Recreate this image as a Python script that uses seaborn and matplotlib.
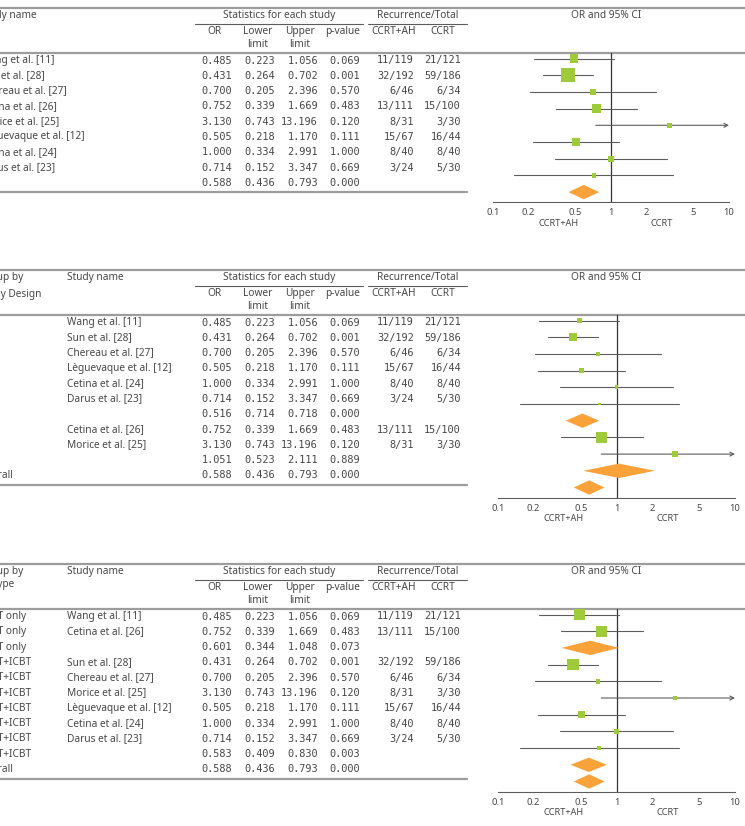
import matplotlib
matplotlib.use("Agg")
import matplotlib.pyplot as plt
from matplotlib.ticker import NullLocator
import numpy as np
import pandas as pd
import seaborn as sns

# studies, in the order of the ungrouped panel
study = ["Wang et al. [11]", "Sun et al. [28]", "Chereau et al. [27]", "Cetina et al. [26]",
         "Morice et al. [25]", "Lèguevaque et al. [12]", "Cetina et al. [24]", "Darus et al. [23]"]
odds = [0.485, 0.431, 0.700, 0.752, 3.130, 0.505, 1.000, 0.714]
lower = [0.223, 0.264, 0.205, 0.339, 0.743, 0.218, 0.334, 0.152]
upper = [1.056, 0.702, 2.396, 1.669, 13.196, 1.170, 2.991, 3.347]
pval = [0.069, 0.001, 0.570, 0.483, 0.120, 0.111, 1.000, 0.669]
events_ah = ["11/119", "32/192", "6/46", "13/111", "8/31", "15/67", "8/40", "3/24"]
events_ccrt = ["21/121", "59/186", "6/34", "15/100", "3/30", "16/44", "8/40", "5/30"]
design = ["RCS", "RCS", "RCS", "RCT", "RCT", "RCS", "RCS", "RCS"]
rt_type = ["EBRT only", "EBRT+ICBT", "EBRT+ICBT", "EBRT only",
           "EBRT+ICBT", "EBRT+ICBT", "EBRT+ICBT", "EBRT+ICBT"]

# relative weights (%) judged from the square areas of each panel
weight_all = [14.7, 37.3, 5.9, 14.0, 4.3, 12.6, 7.4, 3.7]
weight_design = [18.0, 45.6, 7.2, 76.5, 23.5, 15.5, 9.1, 4.6]
weight_rt = [51.2, 52.3, 8.3, 48.8, 6.1, 17.7, 10.4, 5.2]

# pooled results: OR, lower, upper, p
overall = [0.588, 0.436, 0.793, 0.000]
design_groups = ["RCS", "RCT"]
design_pooled = [[0.516, 0.714, 0.718, 0.000], [1.051, 0.523, 2.111, 0.889]]
# printed RCS limits are a typo in the table, the diamond sits here
design_diamond = [[0.373, 0.714], [0.523, 2.111]]
rt_groups = ["EBRT only", "EBRT+ICBT"]
rt_pooled = [[0.601, 0.344, 1.048, 0.073], [0.583, 0.409, 0.830, 0.003]]
rt_diamond = [[0.344, 1.048], [0.409, 0.830]]

ticks = [0.1, 0.2, 0.5, 1, 2, 5, 10]
tick_labels = ["0.1", "0.2", "0.5", "1", "2", "5", "10"]

sns.set_style("white")
plt.rcParams["font.family"] = ["Noto Sans", "DejaVu Sans"]

GREEN = "#9fcb3b"
ORANGE = "#f9a23a"
TXT = "#474747"
RULE = "#9c9c9c"
LINE = "#5c5c5c"
W, H = 745, 826


def study_row(i, group, weight):
    return dict(group=group, study=study[i], est=odds[i], lo=lower[i], hi=upper[i], p=pval[i],
                ev1=events_ah[i], ev2=events_ccrt[i], kind="study", weight=weight[i],
                lo_d=lower[i], hi_d=upper[i])


def pooled_row(group, vals, drawn):
    return dict(group=group, study="", est=vals[0], lo=vals[1], hi=vals[2], p=vals[3],
                ev1="", ev2="", kind="pooled", weight=np.nan, lo_d=drawn[0], hi_d=drawn[1])


def build(groupcol, names, pooled, drawn, weight):
    rows = []
    for g, vals, d in zip(names, pooled, drawn):
        rows += [study_row(i, g, weight) for i in range(len(study)) if groupcol[i] == g]
        rows.append(pooled_row(g, vals, d))
    rows.append(pooled_row("Overall", overall, overall[1:3]))
    return pd.DataFrame(rows)


df_all = pd.DataFrame([study_row(i, "", weight_all) for i in range(len(study))]
                      + [pooled_row("", overall, overall[1:3])])
df_design = build(design, design_groups, design_pooled, design_diamond, weight_design)
df_rt = build(rt_type, rt_groups, rt_pooled, rt_diamond, weight_rt)

fig = plt.figure(figsize=(W / 100, H / 100), dpi=100)
bg = fig.add_axes([0, 0, 1, 1])
bg.set_xlim(0, W)
bg.set_ylim(H, 0)
bg.axis("off")

lab = dict(fontsize=7.3, color=TXT, va="center")
num = dict(fontsize=7.4, color=TXT, va="center", ha="right", family="DejaVu Sans Mono")


def draw_panel(df, top, x01, x10, sq_max, group_title=None, dy2=21):
    n = len(df)
    ty = top + 52.5 + 15.3 * np.arange(n)

    # table rules
    bg.plot([0, W], [top, top], color=RULE, lw=1.6)
    bg.plot([0, W], [top + 44.5] * 2, color=RULE, lw=1.6)
    bg.plot([0, 467], [ty[-1] + 9] * 2, color=RULE, lw=1.6)
    bg.plot([195, 363], [top + 15.5] * 2, color=LINE, lw=0.8)
    bg.plot([368, 467], [top + 15.5] * 2, color=LINE, lw=0.8)

    # headers
    study_x = -20
    if group_title is not None:
        study_x = 67
        bg.text(-21, top + 7.5, "Group by", **lab)
        bg.text(-21, top + dy2, group_title, **lab)
    bg.text(study_x, top + 7.5, "Study name", **lab)
    bg.text(279, top + 7.5, "Statistics for each study", ha="center", **lab)
    bg.text(418, top + 7.5, "Recurrence/Total", ha="center", **lab)
    bg.text(606, top + 7.5, "OR and 95% CI", ha="center", **lab)
    bg.text(215, top + 23.5, "OR", ha="center", **lab)
    bg.text(258, top + 23.5, "Lower", ha="center", **lab)
    bg.text(258, top + 36.5, "limit", ha="center", **lab)
    bg.text(300, top + 23.5, "Upper", ha="center", **lab)
    bg.text(300, top + 36.5, "limit", ha="center", **lab)
    bg.text(343, top + 23.5, "p-value", ha="center", **lab)
    bg.text(394, top + 23.5, "CCRT+AH", ha="center", **lab)
    bg.text(443, top + 23.5, "CCRT", ha="center", **lab)

    # table body
    for y, r in zip(ty, df.itertuples()):
        if group_title is not None:
            bg.text(-21, y, r.group, **lab)
        elif r.group:
            bg.text(-20, y, r.group, **lab)
        bg.text(study_x, y, r.study, **lab)
        bg.text(232, y, f"{r.est:.3f}", **num)
        bg.text(275, y, f"{r.lo:.3f}", **num)
        bg.text(318, y, f"{r.hi:.3f}", **num)
        bg.text(360, y, f"{r.p:.3f}", **num)
        bg.text(414, y, r.ev1, **num)
        bg.text(461, y, r.ev2, **num)

    # forest plot
    step = 16.7
    first = top + 50.5
    axis_px = first + step * (n - 1) + 10
    head_px = top + 44.5
    ax = fig.add_axes([x01 / W, 1 - axis_px / H, (x10 - x01) / W, (axis_px - head_px) / H])
    ax.patch.set_alpha(0)
    ax.set_xscale("log")
    df = df.assign(row=np.arange(n))
    st = df[df.kind == "study"]
    for r in st.itertuples():
        if r.hi > 10:
            ax.annotate("", xy=(10, r.row), xytext=(r.lo, r.row),
                        arrowprops=dict(arrowstyle="->", color=LINE, lw=0.8,
                                        shrinkA=0, shrinkB=0, mutation_scale=7))
        else:
            ax.plot([r.lo, r.hi], [r.row, r.row], color=LINE, lw=0.8, zorder=2)
    sns.scatterplot(data=st, x="est", y="row", size="weight",
                    sizes=(0, (sq_max * 0.72) ** 2), size_norm=(0, st.weight.max()),
                    marker="s", color=GREEN, linewidth=0, legend=False, ax=ax, zorder=3)
    for r in df[df.kind == "pooled"].itertuples():
        ax.fill([r.lo_d, r.est, r.hi_d, r.est], [r.row, r.row - 0.43, r.row, r.row + 0.43],
                color=ORANGE, lw=0, zorder=3)
    ax.axvline(1, color="#333333", lw=0.9, zorder=1)

    ax.set_xlim(0.1, 10)
    ax.set_ylim(n - 1 + 10 / step, (head_px - first) / step)
    ax.set_xticks(ticks)
    ax.set_xticklabels(tick_labels)
    ax.xaxis.set_minor_locator(NullLocator())
    ax.set_yticks([])
    ax.set_xlabel("")
    ax.set_ylabel("")
    for s in ["top", "left", "right"]:
        ax.spines[s].set_visible(False)
    ax.spines["bottom"].set_color(LINE)
    ax.spines["bottom"].set_linewidth(0.8)
    ax.tick_params(axis="x", direction="inout", length=6, width=0.8, color=LINE,
                   labelcolor=TXT, labelsize=6.8, pad=1.5)
    for xv, txt in [(0.36, "CCRT+AH"), (2.7, "CCRT")]:
        ax.annotate(txt, xy=(xv, 0), xycoords=("data", "axes fraction"),
                    xytext=(0, -15.3), textcoords="offset points",
                    ha="center", va="center", fontsize=6.6, color=TXT)


draw_panel(df_all, 8, 493, 729, 14)
draw_panel(df_design, 270, 498, 735, 11, "Study Design", dy2=25)
draw_panel(df_rt, 564, 498, 735, 11.5, "RT type", dy2=21)

fig.savefig("out.png", dpi=100, facecolor="white")
